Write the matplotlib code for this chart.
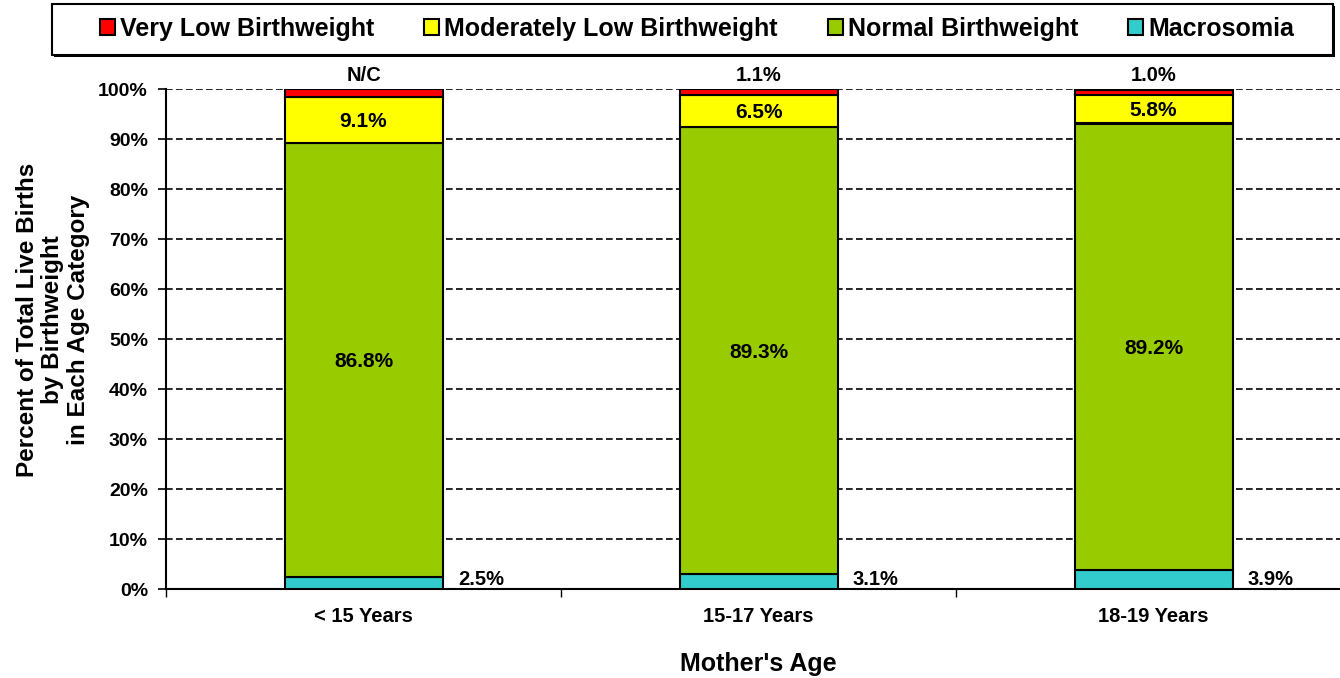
import matplotlib
matplotlib.use("Agg")
import matplotlib.pyplot as plt
from matplotlib.patches import Rectangle
import numpy as np

plt.rcParams['font.family'] = ['Liberation Sans', 'DejaVu Sans']
plt.rcParams['font.weight'] = 'bold'

ages = ["< 15 Years", "15-17 Years", "18-19 Years"]
macrosomia = [2.5, 3.1, 3.9]
normal = [86.8, 89.3, 89.2]
mod_low = [9.1, 6.5, 5.8]
very_low = [1.6, 1.1, 1.0]
very_low_labels = ["N/C", "1.1%", "1.0%"]

series = [("Macrosomia", macrosomia, "#33CCCC"),
          ("Normal Birthweight", normal, "#99CC00"),
          ("Moderately Low Birthweight", mod_low, "#FFFF00"),
          ("Very Low Birthweight", very_low, "#FF0000")]

W, H = 1340, 678
fig = plt.figure(figsize=(W/100, H/100), dpi=100)
ax = fig.add_axes([166/W, 1-589/H, (1351-166)/W, 500/H])

x = np.arange(len(ages))
bottom = np.zeros(len(ages))
bars = {}
for name, vals, col in series:
    bars[name] = ax.bar(x, vals, 0.4, bottom=bottom, color=col, edgecolor="black",
                        linewidth=1.5, zorder=3, label=name)
    bottom = bottom + np.array(vals)

# value labels
for i in range(len(ages)):
    b = bars["Macrosomia"][i]
    ax.annotate("%.1f%%" % macrosomia[i], (b.get_x() + b.get_width(), 0),
                xytext=(11, 0), textcoords="offset points", ha="left", va="bottom",
                fontsize=14.5, fontweight="bold")
    for name, vals in (("Normal Birthweight", normal), ("Moderately Low Birthweight", mod_low)):
        b = bars[name][i]
        ax.text(b.get_x() + b.get_width()/2, b.get_y() + b.get_height()/2 - 0.4, "%.1f%%" % vals[i],
                ha="center", va="center", fontsize=15, fontweight="bold", zorder=4)
    b = bars["Very Low Birthweight"][i]
    ax.annotate(very_low_labels[i], (b.get_x() + b.get_width()/2, 100),
                xytext=(0, 3), textcoords="offset points", ha="center", va="bottom",
                fontsize=14.5, fontweight="bold")

ax.set_xlim(-0.5, len(ages) - 0.5)
ax.set_ylim(0, 100)
ax.set_yticks(np.arange(0, 101, 10))
ax.set_yticklabels(["%d%%" % v for v in range(0, 101, 10)], fontsize=14, fontweight="bold")
ax.set_xticks(np.arange(len(ages) + 1) - 0.5)
ax.set_xticklabels([])
ax.set_xticks(x, minor=True)
ax.set_xticklabels(ages, minor=True, fontsize=14.5, fontweight="bold")
ax.tick_params(axis="x", which="minor", length=0, pad=13)
ax.tick_params(axis="x", which="major", length=6, width=1)
ax.tick_params(axis="y", length=6, width=1.2, pad=7)

for v in range(10, 101, 10):
    ax.axhline(v, color="black", linestyle=(0, (4, 2)), linewidth=1.2, zorder=1)

for s in ["top", "right"]:
    ax.spines[s].set_visible(False)
ax.spines["left"].set_linewidth(1.5)
ax.spines["bottom"].set_linewidth(1.5)

ax.set_xlabel("Mother's Age", fontsize=18, fontweight="bold", labelpad=19)
ax.set_ylabel("Percent of Total Live Births\nby Birthweight\nin Each Age Category",
              fontsize=17.5, fontweight="bold", linespacing=1.15)
ax.yaxis.set_label_coords(-0.064, 0.538)

# legend box with a small shadow
fig.patches.append(Rectangle((54/W, 1-57/H), 1281/W, 51/H, transform=fig.transFigure,
                             facecolor="black", edgecolor="none", zorder=0))
fig.patches.append(Rectangle((52/W, 1-55/H), 1281/W, 51/H, transform=fig.transFigure,
                             facecolor="white", edgecolor="black", linewidth=1.5, zorder=1))

handles = [bars[n] for n in ["Very Low Birthweight", "Moderately Low Birthweight",
                             "Normal Birthweight", "Macrosomia"]]
leg = fig.legend(handles, [h.get_label() for h in handles], ncol=4,
                 loc="center", bbox_to_anchor=(697/W, 1-29/H),
                 prop={"size": 18, "weight": "bold"}, frameon=False,
                 handlelength=0.6, handleheight=0.6, handletextpad=0.2,
                 columnspacing=2.0, borderpad=0, borderaxespad=0)
leg.set_zorder(2)

fig.savefig("out.png", dpi=100)
